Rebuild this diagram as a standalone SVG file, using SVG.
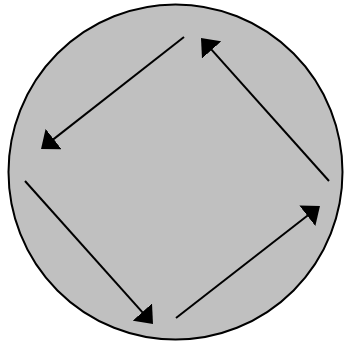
<svg xmlns="http://www.w3.org/2000/svg" width="345" height="343" viewBox="0 0 345 343">
<style>
.conn{stroke:#000;stroke-width:2;fill:none;marker-end:url(#ah)}
.disc{fill:#C0C0C0;stroke:#000;stroke-width:2}
</style>
<defs>
<marker id="ah" markerUnits="userSpaceOnUse" markerWidth="16" markerHeight="26" viewBox="0 0 16 26" refX="13" refY="13" orient="auto">
<path d="M0,0 L16,13 L0,26 z" fill="#000"/>
</marker>
</defs>
<g id="circle"><ellipse class="disc" cx="175.5" cy="172" rx="167" ry="167.5"/></g>
<g id="connectors">
<line class="conn" x1="184" y1="37" x2="43.4" y2="147.1"/>
<line class="conn" x1="25" y1="181" x2="151" y2="321.8"/>
<line class="conn" x1="176" y1="318" x2="317.6" y2="207.8"/>
<line class="conn" x1="329" y1="181" x2="203" y2="40.2"/>
</g>
</svg>
